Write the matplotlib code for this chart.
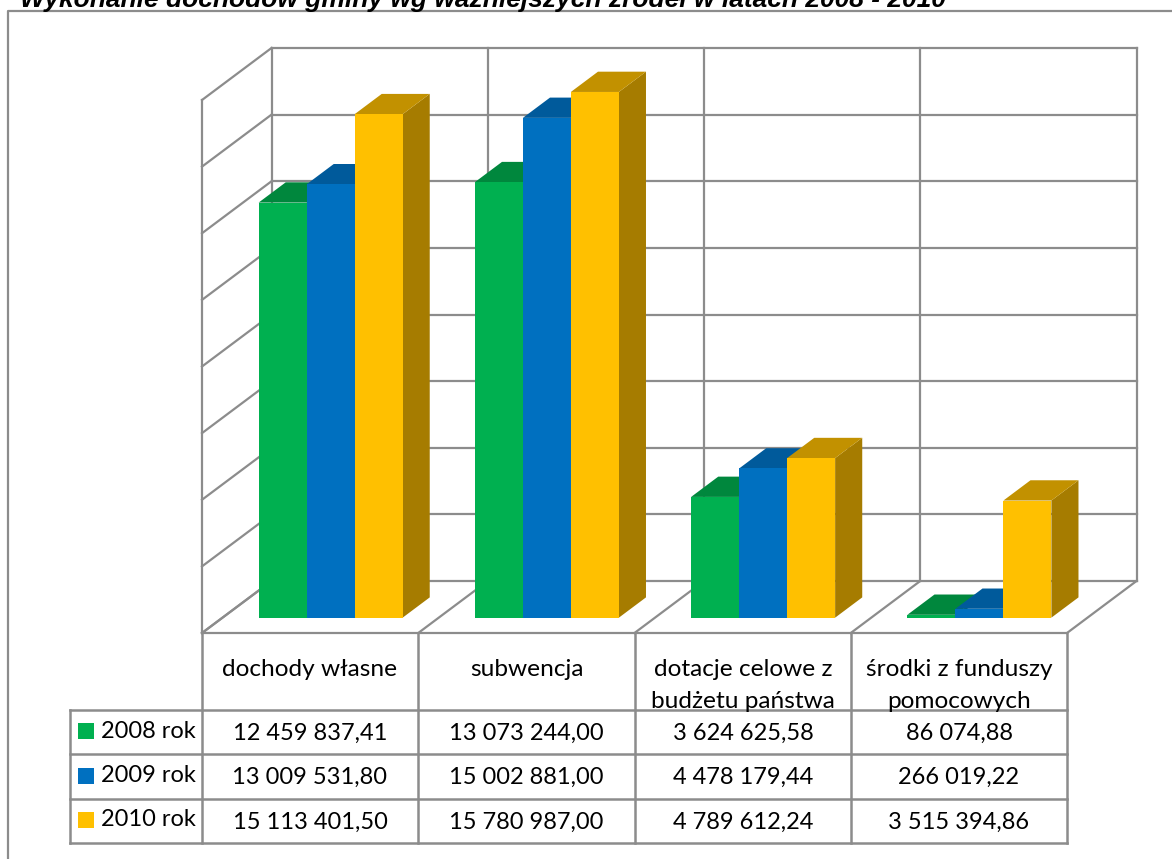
import matplotlib
matplotlib.use("Agg")
import matplotlib.pyplot as plt
from matplotlib.patches import Polygon

title = "Wykonanie dochodów gminy wg ważniejszych źródeł w latach 2008 - 2010"
categories = ["dochody własne", "subwencja", "dotacje celowe z\nbudżetu państwa", "środki z funduszy\npomocowych"]
series_names = ["2008 rok", "2009 rok", "2010 rok"]
values_2008 = [12459837.41, 13073244.00, 3624625.58, 86074.88]
values_2009 = [13009531.80, 15002881.00, 4478179.44, 266019.22]
values_2010 = [15113401.50, 15780987.00, 4789612.24, 3515394.86]
y_ticks = [0, 2000000, 4000000, 6000000, 8000000, 10000000, 12000000, 14000000, 16000000]

front_colors = ["#00B050", "#0070C0", "#FFC000"]
top_colors = ["#00873D", "#005A9B", "#C29100"]
side_colors = ["#007A37", "#00518C", "#A67C00"]
grid = "#8C8C8C"

W, H = 1172, 859
fig = plt.figure(figsize=(W / 100, H / 100), dpi=100, facecolor="white")

# pixel overlay for the frame and the data table
px = fig.add_axes([0, 0, 1, 1], zorder=3)
px.set_xlim(0, W)
px.set_ylim(H, 0)
px.axis("off")
px.patch.set_alpha(0)

# oblique "3d" chart: x in categories, y in value units
ax = fig.add_axes([202 / W, (H - 633) / H, 865 / W, 533 / H], zorder=2)
ax.set_xlim(0, 4)
ax.set_ylim(0, 16000000)
ax.axis("off")

depth_x = 69.5 / 216.25      # category units for the full floor depth
depth_y = 52 / 533 * 16000000


def project(x, y, d):
    return (x + d * depth_x, y + d * depth_y)


def line(p, q, lw=1.6):
    ax.plot([p[0], q[0]], [p[1], q[1]], color=grid, lw=lw, clip_on=False, solid_capstyle="projecting")


# walls and floor
for t in y_ticks:
    line(project(0, t, 0), project(0, t, 1))
    line(project(0, t, 1), project(4, t, 1))
for i in range(5):
    line(project(i, 0, 0), project(i, 0, 1))
    line(project(i, 0, 1), project(i, y_ticks[-1], 1))
line(project(0, 0, 0), project(0, y_ticks[-1], 0))
line(project(0, 0, 0), project(4, 0, 0))

# bars
bar_w = 48 / 216.25
d0, d1 = 0.295, 0.685
all_values = [values_2008, values_2009, values_2010]
for c in range(len(categories)):
    for s, vals in enumerate(all_values):
        x0 = c + 0.5 + (s - 1.5) * bar_w
        x1 = x0 + bar_w
        v = vals[c]
        top = [project(x0, v, d0), project(x1, v, d0), project(x1, v, d1), project(x0, v, d1)]
        side = [project(x1, 0, d0), project(x1, v, d0), project(x1, v, d1), project(x1, 0, d1)]
        front = [project(x0, 0, d0), project(x1, 0, d0), project(x1, v, d0), project(x0, v, d0)]
        ax.add_patch(Polygon(side, fc=side_colors[s], ec="none", clip_on=False, zorder=3))
        ax.add_patch(Polygon(top, fc=top_colors[s], ec="none", clip_on=False, zorder=3))
        ax.add_patch(Polygon(front, fc=front_colors[s], ec="none", clip_on=False, zorder=3))

# frame and title
px.plot([8, 8, W], [H, 11, 11], color=grid, lw=1.6)
px.text(20, 6.5, title, family="Liberation Sans", weight="bold", style="italic", fontsize=19, color="black", va="baseline")

# data table
cols = [202, 418, 635, 851, 1067]
rows = [710, 754, 799, 843]
for x in cols:
    px.plot([x, x], [633, rows[-1]], color=grid, lw=1.8)
for y in rows:
    px.plot([70, cols[-1]], [y, y], color=grid, lw=1.8)
px.plot([70, 70], [rows[0], rows[-1]], color=grid, lw=1.8)

tfont = dict(family="Lato", color="black", ha="center")
for i, name in enumerate(categories):
    cx = (cols[i] + cols[i + 1]) / 2
    lines = name.split("\n")
    px.text(cx, 669, lines[0], va="center", fontsize=17.6, **tfont)
    if len(lines) > 1:
        px.text(cx, 701, lines[1], va="center", fontsize=17.6, **tfont)
    for r, vals in enumerate(all_values):
        label = f"{vals[i]:,.2f}".replace(",", " ").replace(".", ",")
        px.text(cx, (rows[r] + rows[r + 1]) / 2 + 1, label, va="center", fontsize=17, **tfont)

for r, name in enumerate(series_names):
    y = (rows[r] + rows[r + 1]) / 2 - 1
    px.add_patch(plt.Rectangle((78, y - 8), 16, 16, fc=front_colors[r], ec="none"))
    px.text(101, y, name, family="Lato", fontsize=17, color="black", va="center")

fig.savefig("out.png", dpi=100)
